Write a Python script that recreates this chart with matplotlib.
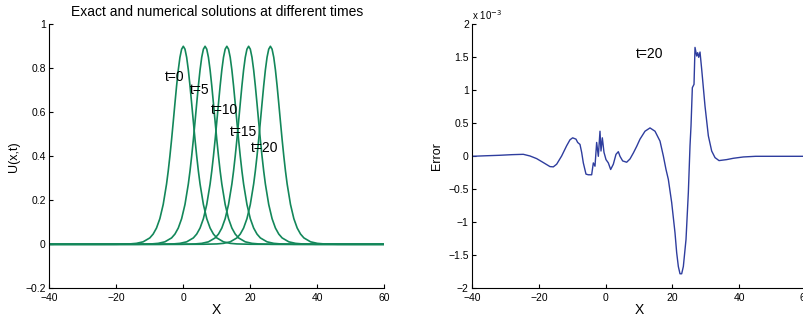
import matplotlib
matplotlib.use("Agg")
import matplotlib.pyplot as plt
import numpy as np

plt.rcParams['font.family'] = ['Liberation Sans', 'DejaVu Sans']

# ---- data: left panel (solitary wave profiles) ----
times = [0, 5, 10, 15, 20]
centers = [0.0, 6.5, 13.0, 19.5, 26.0]
label_x = [-5.5, 2.0, 8.3, 14.0, 20.2]
label_y = [0.76, 0.70, 0.61, 0.51, 0.44]
profile_offset = [0, 0.5, 1, 1.5, 2, 2.5, 3, 3.5, 4, 4.5, 5, 6, 7, 8, 9, 10,
                  12, 14, 16, 20, 25, 30, 100]
profile_value = [0.900, 0.887, 0.850, 0.7925, 0.7205, 0.640, 0.557, 0.476,
                 0.401, 0.333, 0.274, 0.181, 0.1165, 0.0739, 0.0465, 0.029,
                 0.0112, 0.0043, 0.0017, 0.0002, 0.0, 0.0, 0.0]

# ---- data: right panel (error at t=20, units of 1e-3) ----
err_x = [-40, -36, -32, -28, -24.7, -22.7, -20.7, -18.7, -16.7, -15.7, -14.7,
         -13.2, -11.7, -10.7, -9.9, -8.9, -8.4, -7.7, -7.2, -6.7, -5.9, -5.2,
         -4.2, -3.7, -3.2, -2.7, -2.2, -1.7, -1.4, -1.0, -0.5, 0.1, 0.8, 1.5,
         2.3, 3.1, 3.8, 4.3, 5.1, 6.3, 7.3, 8.3, 9.3, 10.3, 11.8, 13.3, 14.8,
         16.3, 17.3, 18.1, 18.8, 19.8, 20.8, 21.3, 21.8, 22.3, 22.8, 23.3, 24.1,
         24.8, 25.3, 25.6, 26.0, 26.5, 26.8, 27.3, 27.6, 27.9, 28.3, 28.8, 29.8,
         30.8, 31.8, 32.8, 34.0, 36.3, 38.3, 41.3, 45, 60]
err_y = [0.0, 0.008, 0.015, 0.025, 0.03, 0.005, -0.035, -0.095, -0.156, -0.16,
         -0.12, 0.005, 0.16, 0.25, 0.28, 0.26, 0.21, 0.18, 0.06, -0.10, -0.27,
         -0.28, -0.28, -0.10, -0.15, 0.21, 0.0, 0.38, 0.08, 0.28, 0.06, -0.05,
         -0.10, -0.20, -0.12, 0.03, 0.07, 0.0, -0.07, -0.09, -0.04, 0.05, 0.15,
         0.26, 0.38, 0.43, 0.38, 0.23, 0.005, -0.20, -0.35, -0.70, -1.16, -1.46,
         -1.67, -1.78, -1.78, -1.67, -1.26, -0.55, 0.16, 0.46, 1.04, 1.09, 1.65,
         1.52, 1.57, 1.50, 1.58, 1.32, 0.76, 0.31, 0.08, -0.02, -0.065, -0.05,
         -0.03, -0.01, 0.0, 0.0]

green = '#13875a'
blue = '#2e3d9e'

fig = plt.figure(figsize=(8.04, 3.2), dpi=100)
ax1 = fig.add_axes([49.3 / 804, (320 - 288.3) / 320, 335 / 804, 264 / 320])
ax2 = fig.add_axes([472.3 / 804, (320 - 288.3) / 320, 333.4 / 804, 264 / 320])

off = np.array(profile_offset)
val = np.array(profile_value)
for c in centers:
    xs = np.concatenate([c - off[::-1], c + off[1:]])
    ys = np.concatenate([val[::-1], val[1:]])
    ax1.plot(xs, ys, color=green, lw=1.2, solid_joinstyle='round')
for t, lx, ly in zip(times, label_x, label_y):
    ax1.text(lx, ly, f't={t}', fontsize=10, ha='left', va='center')

ax1.set_xlim(-40, 60)
ax1.set_ylim(-0.2, 1.0)
ax1.set_xticks([-40, -20, 0, 20, 40, 60])
ax1.set_yticks([-0.2, 0, 0.2, 0.4, 0.6, 0.8, 1.0])
ax1.set_xticklabels(['\u221240', '\u221220', '0', '20', '40', '60'])
ax1.set_yticklabels(['\u22120.2', '0', '0.2', '0.4', '0.6', '0.8', '1'])
ax1.set_title('Exact and numerical solutions at different times', fontsize=10, pad=6)
ax1.set_xlabel('X', fontsize=10, labelpad=0)
ax1.set_ylabel('U(x,t)', fontsize=9, labelpad=4)

ax2.plot(err_x, err_y, color=blue, lw=1.0, solid_joinstyle='round')
ax2.text(9.0, 1.55, 't=20', fontsize=10, ha='left', va='center')
ax2.set_xlim(-40, 60)
ax2.set_ylim(-2, 2)
ax2.set_xticks([-40, -20, 0, 20, 40, 60])
ax2.set_xticklabels(['\u221240', '\u221220', '0', '20', '40', '60'])
ax2.set_yticks([-2, -1.5, -1, -0.5, 0, 0.5, 1, 1.5, 2])
ax2.set_yticklabels(['\u22122', '\u22121.5', '\u22121', '\u22120.5', '0', '0.5', '1', '1.5', '2'])
ax2.set_xlabel('X', fontsize=10, labelpad=0)
ax2.set_ylabel('Error', fontsize=9, labelpad=4)
ax2.text(0.0, 1.01, 'x 10$^{-3}$', transform=ax2.transAxes, fontsize=7,
         ha='left', va='bottom')

for ax in (ax1, ax2):
    ax.spines['top'].set_visible(False)
    ax.spines['right'].set_visible(False)
    ax.spines['left'].set_linewidth(0.8)
    ax.spines['bottom'].set_linewidth(0.8)
    ax.tick_params(direction='in', length=3, width=0.8, labelsize=7.5)
    ax.tick_params(axis='x', pad=3.5)
    ax.tick_params(axis='y', pad=2.5)

fig.savefig('out.png', dpi=100)
